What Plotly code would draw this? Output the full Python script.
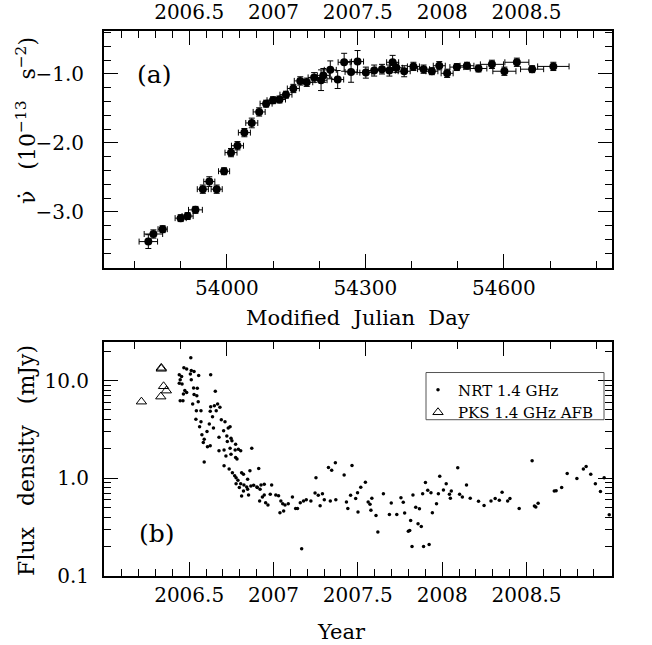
import plotly.graph_objects as go

# ---------------- Panel (a): nu-dot vs MJD ----------------
mjd_a = [53830, 53841, 53861, 53900, 53915, 53932, 53948, 53962, 53978, 53994,
         54009, 54023, 54038, 54054, 54070, 54085, 54100, 54114, 54128, 54144,
         54159, 54173, 54189, 54204, 54209, 54224, 54240, 54254, 54269, 54283,
         54301, 54319, 54336, 54352, 54359, 54367, 54384, 54404, 54426, 54444,
         54460, 54477, 54498, 54520, 54545, 54574, 54601, 54628, 54661, 54707]
nudot_a = [-3.43, -3.32, -3.25, -3.09, -3.06, -2.97, -2.67, -2.56, -2.67, -2.41,
           -2.14, -2.04, -1.85, -1.71, -1.55, -1.43, -1.38, -1.37, -1.30, -1.21,
           -1.10, -1.12, -1.05, -1.09, -1.02, -0.94, -1.08, -0.83, -0.97, -0.82,
           -0.98, -0.95, -0.93, -0.95, -0.83, -0.91, -0.96, -0.89, -0.93, -0.96,
           -0.88, -0.99, -0.90, -0.88, -0.92, -0.86, -0.96, -0.83, -0.93, -0.89]
nudot_err = [0.10, 0.06, 0.05, 0.05, 0.05, 0.05, 0.06, 0.07, 0.06, 0.05,
             0.06, 0.06, 0.06, 0.07, 0.06, 0.05, 0.05, 0.05, 0.05, 0.06,
             0.06, 0.06, 0.07, 0.15, 0.10, 0.13, 0.13, 0.13, 0.15, 0.16,
             0.08, 0.08, 0.07, 0.08, 0.10, 0.07, 0.08, 0.06, 0.06, 0.05,
             0.06, 0.06, 0.05, 0.05, 0.05, 0.06, 0.06, 0.06, 0.05, 0.06]
mjd_err = [20, 20, 10, 12, 12, 15, 12, 12, 12, 12,
           13, 13, 13, 13, 13, 13, 13, 13, 13, 13,
           13, 13, 13, 13, 13, 13, 13, 13, 13, 13,
           13, 13, 13, 13, 13, 13, 13, 13, 13, 13,
           13, 13, 15, 15, 18, 25, 25, 26, 25, 34]

# ---------------- Panel (b): flux density ----------------
nrt_mjd = [53922, 53907, 53913, 53923, 53929, 53897, 53902, 53921, 53939, 53965,
           53899, 53923, 53897, 53903, 53928, 53936, 53909, 53913, 53906, 53929,
           53935, 53975, 53899, 53905, 53926, 53938, 53965, 53973, 53980, 53977,
           53985, 53934, 53944, 53964, 53933, 53944, 53969, 53988, 53996, 53962,
           53941, 53957, 53946, 53951, 53971, 54003, 54007, 53993, 54000, 54009,
           53983, 54001, 54011, 54019, 53949, 53958, 53964, 53983, 53994, 54007,
           54018, 54025, 54030, 54054, 53998, 54009, 54022, 54019, 53994, 54005,
           53951, 54012, 54017, 54032, 54036, 54050, 54069, 54020, 54024, 54045,
           54030, 54037, 54043, 54052, 54058, 54065, 54074, 54081, 54097, 54020,
           54027, 54036, 54045, 54066, 54072, 54094, 54032, 54047, 54077, 54081,
           54071, 54084, 54089,
           54106, 54112, 54117, 54121, 54126, 54133, 54123, 54115, 54142, 54149,
           54153, 54159, 54166, 54172, 54162, 54182, 54191, 54198, 54207, 54202,
           54193, 54211, 54224, 54220, 54227, 54235, 54236, 54254, 54259, 54262,
           54268, 54271, 54279, 54283, 54284, 54290, 54300, 54306, 54310, 54312,
           54314, 54323, 54327, 54339, 54352, 54356, 54368, 54377, 54382, 54385,
           54393, 54396, 54398, 54401, 54403, 54409, 54414, 54417, 54421, 54424,
           54426, 54430, 54435, 54438, 54442, 54445, 54454, 54458, 54461,
           54469, 54475, 54482, 54486, 54484, 54500, 54504, 54510, 54519, 54527,
           54545, 54557, 54572, 54581, 54590, 54596, 54608, 54613, 54633,
           54661, 54666, 54669, 54674,
           54709, 54713, 54725, 54737, 54758, 54772, 54778, 54788, 54798, 54809, 54817, 54828]
nrt_flux = [17.1, 13.5, 13.1, 12.7, 12.4, 11.5, 11.0, 11.7, 11.3, 11.5,
            10.2, 10.2, 9.39, 9.24, 8.41, 8.34, 7.89, 7.53, 7.30, 7.18,
            7.01, 7.77, 6.23, 6.23, 5.76, 6.08, 5.40, 5.53, 5.76, 4.92,
            5.32, 4.92, 4.92, 4.84, 4.01, 3.79, 4.27, 3.97, 3.79, 3.59,
            3.37, 3.01, 2.79, 2.51, 3.26, 3.26, 3.37, 3.06, 2.70, 2.57,
            2.62, 2.38, 2.42, 2.23, 2.32, 2.10, 2.15, 1.91, 1.94, 2.03,
            1.94, 1.98, 1.91, 2.03, 1.69, 1.76, 1.57, 1.63, 1.34, 1.24,
            1.47, 1.14, 1.06, 1.14, 1.10, 1.19, 1.26, 1.01, 0.953, 0.976,
            0.880, 0.853, 0.814, 0.833, 0.846, 0.814, 0.853, 0.866, 0.853, 0.880,
            0.801, 0.740, 0.770, 0.801, 0.770, 0.684, 0.658, 0.673, 0.642, 0.673,
            0.584, 0.562, 0.531,
            0.673, 0.663, 0.584, 0.548, 0.531, 0.548, 0.461, 0.443, 0.642, 0.491,
            0.491, 0.562, 0.584, 0.603, 0.189, 0.584, 0.706, 0.668, 0.695, 0.523,
            1.01, 0.603, 0.584, 1.29, 1.21, 1.44, 0.603, 1.08, 0.571, 0.491,
            0.668, 1.35, 0.618, 0.711, 0.450, 0.807, 0.909, 0.571, 0.540, 0.469,
            0.622, 0.416, 0.281, 0.695, 0.426, 0.557, 0.426, 0.632, 0.566, 0.440,
            0.287, 0.292, 0.370, 0.200, 0.673, 0.503, 0.342, 0.488, 0.321, 0.695,
            0.200, 0.902, 0.752, 0.210, 0.711, 0.443, 0.548, 0.695, 1.05,
            0.758, 0.880, 0.684, 0.740, 0.622, 1.28, 0.684, 0.642, 0.853, 0.622,
            0.580, 0.527, 0.584, 0.618, 0.594, 0.717, 0.584, 0.618, 0.491,
            1.51, 0.519, 0.507, 0.553,
            0.740, 0.746, 0.801, 1.12, 0.991, 1.24, 1.32, 1.10, 0.880, 0.729, 1.01, 0.423]
pks_mjd = [53815, 53858, 53858, 53863, 53869, 53857]
pks_flux = [6.08, 13.5, 13.2, 8.74, 7.89, 6.85]

# ---------------- Axis tick definitions ----------------
mjd_range = [53734, 54834]
mjd_major = [54000, 54300, 54600]
mjd_minor = [53800, 53900, 54100, 54200, 54400, 54500, 54700, 54800]
year_major = [2006.5, 2007.0, 2007.5, 2008.0, 2008.5]
year_minor = [2006.1, 2006.2, 2006.3, 2006.4, 2006.6, 2006.7, 2006.8, 2006.9,
              2007.1, 2007.2, 2007.3, 2007.4, 2007.6, 2007.7, 2007.8, 2007.9,
              2008.1, 2008.2, 2008.3, 2008.4, 2008.6, 2008.7, 2008.8, 2008.9]
nudot_major = [-3.0, -2.0, -1.0]
nudot_minor = [-3.8, -3.6, -3.4, -3.2, -2.8, -2.6, -2.4, -2.2, -1.8, -1.6, -1.4,
               -1.2, -0.8, -0.6, -0.4]
flux_major = [0.1, 1.0, 10.0]
flux_minor = [0.2, 0.3, 0.4, 0.5, 0.6, 0.7, 0.8, 0.9, 2, 3, 4, 5, 6, 7, 8, 9, 20]


def year_to_mjd(y):
    return 54101.0 + (y - 2007.0) * 365.25


def fmt_year(y):
    return f"{y:g}"


# figure geometry (the page is shown slightly squeezed vertically, so lay out on a taller canvas)
W, H = 652, 660
SQ, OFF = 0.9778, 1.0


def py(y):
    """vertical paper fraction for a target pixel row in the final picture"""
    return 1 - ((y - OFF) / SQ) / H


def px(x):
    return x / W


FONT = "DejaVu Serif"
tickfont = dict(family=FONT, size=20, color="black")
NB = "\u00a0"

fig = go.Figure()

# panel a
fig.add_trace(go.Scatter(
    x=mjd_a, y=nudot_a, mode="markers", xaxis="x", yaxis="y", showlegend=False,
    marker=dict(symbol="circle", size=8, color="black"),
    error_x=dict(type="data", array=mjd_err, thickness=1, width=3, color="black"),
    error_y=dict(type="data", array=nudot_err, thickness=1, width=3, color="black"),
))
fig.add_trace(go.Scatter(x=mjd_a, y=nudot_a, mode="markers", xaxis="x3", yaxis="y",
                         marker=dict(opacity=0), showlegend=False, hoverinfo="skip"))

# panel b
fig.add_trace(go.Scatter(
    x=nrt_mjd, y=nrt_flux, mode="markers", xaxis="x2", yaxis="y2",
    name="NRT 1.4 GHz", marker=dict(symbol="circle", size=3.5, color="black"),
))
fig.add_trace(go.Scatter(
    x=pks_mjd, y=pks_flux, mode="markers", xaxis="x2", yaxis="y2",
    name="PKS 1.4 GHz AFB",
    marker=dict(symbol="triangle-up-open", size=9, color="black", line=dict(width=1, color="black")),
))
fig.add_trace(go.Scatter(x=nrt_mjd, y=nrt_flux, mode="markers", xaxis="x4", yaxis="y2",
                         marker=dict(opacity=0), showlegend=False, hoverinfo="skip"))

xdom = [px(104), px(612)]
ydom_a = [py(267.7), py(31.7)]
ydom_b = [py(574.5), py(341.7)]

common_x = dict(range=mjd_range, showgrid=False, zeroline=False, showline=True,
                linecolor="black", linewidth=2, ticks="inside", tickcolor="black",
                tickwidth=1, ticklen=14, tickfont=tickfont, tickmode="array")

minor_mjd = dict(tickmode="array", tickvals=mjd_minor, ticks="inside", ticklen=7,
                 tickcolor="black", tickwidth=1, showgrid=False)
minor_year = dict(tickmode="array", tickvals=[year_to_mjd(v) for v in year_minor],
                  ticks="inside", ticklen=7, tickcolor="black", tickwidth=1, showgrid=False)

fig.update_layout(
    width=W, height=H, autosize=False,
    margin=dict(l=0, r=0, t=0, b=0),
    paper_bgcolor="white", plot_bgcolor="white",
    font=dict(family=FONT, color="black"),
    xaxis=dict(common_x, domain=xdom, anchor="y", side="bottom",
               tickvals=mjd_major, ticktext=[str(v) for v in mjd_major],
               minor=minor_mjd, ticklabelstandoff=1),
    xaxis3=dict(common_x, overlaying="x", anchor="y", side="top",
                tickvals=[year_to_mjd(v) for v in year_major],
                ticktext=[fmt_year(v) for v in year_major],
                minor=minor_year, ticklabelstandoff=2),
    yaxis=dict(domain=ydom_a, anchor="x", range=[-3.81, -0.374], showgrid=False,
               zeroline=False, showline=True, linecolor="black", linewidth=2,
               mirror="ticks", ticks="inside", ticklen=14, tickcolor="black", tickwidth=1,
               tickmode="array", tickvals=nudot_major,
               ticktext=[f"{v:.1f}".replace("-", "\u2212") for v in nudot_major],
               tickfont=tickfont, ticklabelstandoff=14,
               minor=dict(tickmode="array", tickvals=nudot_minor, ticks="inside",
                          ticklen=7, tickcolor="black", tickwidth=1, showgrid=False)),
    xaxis2=dict(common_x, domain=xdom, anchor="y2", side="bottom",
                tickvals=[year_to_mjd(v) for v in year_major],
                ticktext=[fmt_year(v) for v in year_major],
                minor=minor_year, ticklabelstandoff=0),
    xaxis4=dict(common_x, overlaying="x2", anchor="y2", side="top",
                tickvals=mjd_major, showticklabels=False, minor=minor_mjd),
    yaxis2=dict(domain=ydom_b, anchor="x2", type="log", range=[-1, 1.394],
                showgrid=False, zeroline=False, showline=True, linecolor="black",
                linewidth=2, mirror="ticks", ticks="inside", ticklen=14,
                tickcolor="black", tickwidth=1, tickmode="array", tickvals=flux_major,
                ticktext=[f"{v:.1f}" for v in flux_major], tickfont=tickfont,
                ticklabelstandoff=9,
                minor=dict(tickmode="array", tickvals=flux_minor, ticks="inside",
                           ticklen=7, tickcolor="black", tickwidth=1, showgrid=False)),
    legend=dict(x=px(418), y=py(373), xanchor="left", yanchor="top",
                bgcolor="rgba(0,0,0,0)", borderwidth=0,
                font=dict(family=FONT, size=15, color="black"), itemwidth=30,
                tracegroupgap=0),
    showlegend=True,
)

# legend frame
fig.add_shape(type="rect", xref="paper", yref="paper",
              x0=px(426), x1=px(604), y0=py(419), y1=py(372),
              line=dict(color="#555555", width=1), fillcolor="rgba(0,0,0,0)", layer="above")

ann_font = dict(family=FONT, size=21, color="black")
fig.add_annotation(text=f"Modified{NB}{NB}Julian{NB}{NB}Day", xref="paper", yref="paper",
                   x=px(358), y=py(318), xanchor="center", yanchor="middle",
                   showarrow=False, font=ann_font)
fig.add_annotation(text="Year", xref="paper", yref="paper",
                   x=px(341), y=py(630), xanchor="center", yanchor="middle",
                   showarrow=False, font=ann_font)
fig.add_annotation(text=f"\u03bd\u0307{NB}{NB}{NB}(10<sup>\u221213</sup>{NB}{NB}{NB}s<sup>\u22122</sup>)",
                   xref="paper", yref="paper", x=px(26), y=py(121.5),
                   xanchor="center", yanchor="middle", textangle=-90, showarrow=False,
                   font=dict(family=FONT, size=22, color="black"))
fig.add_annotation(text=f"Flux{NB}{NB}{NB}density{NB}{NB}{NB}(mJy)", xref="paper", yref="paper",
                   x=px(27), y=py(460), xanchor="center", yanchor="middle",
                   textangle=-90, showarrow=False, font=dict(family=FONT, size=22, color="black"))
fig.add_annotation(text="(a)", xref="paper", yref="paper", x=px(154), y=py(75),
                   xanchor="center", yanchor="middle", showarrow=False,
                   font=dict(family=FONT, size=25, color="black"))
fig.add_annotation(text="(b)", xref="paper", yref="paper", x=px(157), y=py(532),
                   xanchor="center", yanchor="middle", showarrow=False,
                   font=dict(family=FONT, size=25, color="black"))

post = (
    "document.documentElement.style.margin='0';"
    "document.documentElement.style.padding='0';"
    "document.documentElement.style.overflow='hidden';"
    "document.body.style.margin='0';"
    "document.body.style.padding='0';"
    "document.body.style.overflow='hidden';"
    "var gd=document.querySelector('.plotly-graph-div');"
    "if(gd){gd.style.position='absolute';gd.style.left='0px';gd.style.top='0px';"
    "gd.parentElement.style.lineHeight='0';}"
)

fig.write_html("out.html", config={"displayModeBar": False, "responsive": False},
               post_script=post)
